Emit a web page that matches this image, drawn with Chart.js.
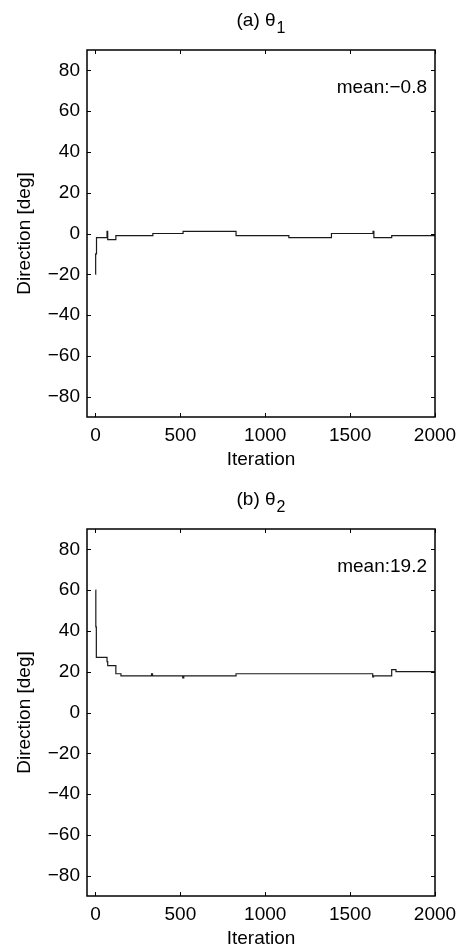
<!DOCTYPE html>
<html>
<head>
<meta charset="utf-8">
<script src="https://cdn.jsdelivr.net/npm/chart.js"></script>
<style>
  html, body { margin: 0; padding: 0; background: #fff; overflow: hidden; }
  .plot { position: absolute; left: 0; width: 465px; height: 475px; }
</style>
</head>
<body>
<div class="plot" style="top:0px"><canvas id="chartA"></canvas></div>
<div class="plot" style="top:479px"><canvas id="chartB"></canvas></div>
<script>
// iteration where each new value starts (step changes)
const theta1Iter = [0, 1, 6, 68, 72, 120, 338, 516, 828, 1139, 1390, 1635, 1640, 1745, 2000];
const theta1Deg  = [-20, -10, -2, 1, -3, -1, 0, 1, -1, -2, 0, 1, -2, -1, -1];

const theta2Iter = [0, 2, 5, 68, 72, 120, 150, 330, 336, 514, 520, 828, 1633, 1638, 1745, 1770, 2000];
const theta2Deg  = [60, 42, 27, 25, 23, 19, 18, 19, 18, 17, 18, 19, 17.5, 18, 21, 20, 20];

const xTicks = [0, 500, 1000, 1500, 2000];
const yTicks = [-80, -60, -40, -20, 0, 20, 40, 60, 80];

const FONT = "'Liberation Sans', Arial, Helvetica, sans-serif";

// MATLAB-like box with inward ticks, title with subscript, and the mean label
const boxPlugin = {
    id: 'box',
    afterDraw(chart, args, opts) {
        const {ctx, chartArea: a, scales} = chart;
        const t = 4;
        ctx.save();
        ctx.strokeStyle = '#000';
        ctx.lineWidth = 1;
        ctx.beginPath();
        scales.x.ticks.forEach(tk => {
            const px = Math.round(scales.x.getPixelForValue(tk.value)) + 0.5;
            ctx.moveTo(px, a.bottom); ctx.lineTo(px, a.bottom - t);
            ctx.moveTo(px, a.top); ctx.lineTo(px, a.top + t);
        });
        scales.y.ticks.forEach(tk => {
            const py = Math.round(scales.y.getPixelForValue(tk.value)) + 0.5;
            ctx.moveTo(a.left, py); ctx.lineTo(a.left + t, py);
            ctx.moveTo(a.right, py); ctx.lineTo(a.right - t, py);
        });
        ctx.stroke();
        ctx.lineWidth = 1.5;
        ctx.strokeRect(a.left, a.top, a.right - a.left, a.bottom - a.top);

        ctx.fillStyle = '#000';
        ctx.textBaseline = 'middle';

        // mean label
        ctx.font = '19px ' + FONT;
        ctx.textAlign = 'right';
        ctx.fillText(opts.mean, a.right - 8, a.top + 38);

        // title "(a) θ" + lowered subscript
        ctx.textAlign = 'left';
        ctx.font = '19px ' + FONT;
        const wMain = ctx.measureText(opts.title).width;
        ctx.font = '16px ' + FONT;
        const wSub = ctx.measureText(opts.sub).width;
        const x0 = (a.left + a.right) / 2 - (wMain + wSub + 1) / 2;
        ctx.font = '19px ' + FONT;
        ctx.fillText(opts.title, x0, a.top - 29);
        ctx.font = '16px ' + FONT;
        ctx.fillText(opts.sub, x0 + wMain + 1, a.top - 21);
        ctx.restore();
    }
};

function minus(v) {
    return String(v).replace('-', '\u2212');
}

function setupChart(id, iters, values, title, sub, mean) {
    const ctx = document.getElementById(id).getContext('2d');
    const points = iters.map((it, i) => ({x: it, y: values[i]}));
    return new Chart(ctx, {
        type: 'line',
        data: {
            datasets: [{
                data: points,
                borderColor: '#1a1a1a',
                borderWidth: 1.2,
                pointRadius: 0,
                stepped: true,
                tension: 0
            }]
        },
        options: {
            responsive: true,
            maintainAspectRatio: false,
            animation: false,
            layout: { padding: {left: 0, right: 30, top: 50, bottom: 0} },
            plugins: {
                legend: { display: false },
                tooltip: { enabled: false },
                title: { display: false },
                box: { mean: mean, title: title, sub: sub }
            },
            scales: {
                x: {
                    type: 'linear',
                    min: -50,
                    max: 2000,
                    afterBuildTicks: s => { s.ticks = xTicks.map(v => ({value: v})); },
                    afterFit: s => { s.height = 58; },
                    grid: { display: false, drawTicks: false },
                    border: { display: false },
                    ticks: {
                        color: '#000',
                        padding: 7,
                        maxRotation: 0,
                        font: { family: FONT, size: 19 },
                        callback: v => minus(v)
                    },
                    title: {
                        display: true,
                        text: 'Iteration',
                        color: '#000',
                        font: { family: FONT, size: 19, lineHeight: 1.2 },
                        padding: { top: 0, bottom: 3.6 }
                    }
                },
                y: {
                    min: -90,
                    max: 90,
                    afterBuildTicks: s => { s.ticks = yTicks.map(v => ({value: v})); },
                    afterFit: s => { s.width = 87; },
                    grid: { display: false, drawTicks: false },
                    border: { display: false },
                    ticks: {
                        color: '#000',
                        padding: 7,
                        font: { family: FONT, size: 19 },
                        callback: v => minus(v)
                    },
                    title: {
                        display: true,
                        text: 'Direction [deg]',
                        color: '#000',
                        font: { family: FONT, size: 19, lineHeight: 1.2 },
                        padding: { top: 13.6, bottom: 0 }
                    }
                }
            }
        },
        plugins: [boxPlugin]
    });
}

setupChart('chartA', theta1Iter, theta1Deg, '(a) \u03B8', '1', 'mean:\u22120.8');
setupChart('chartB', theta2Iter, theta2Deg, '(b) \u03B8', '2', 'mean:19.2');
</script>
</body>
</html>
